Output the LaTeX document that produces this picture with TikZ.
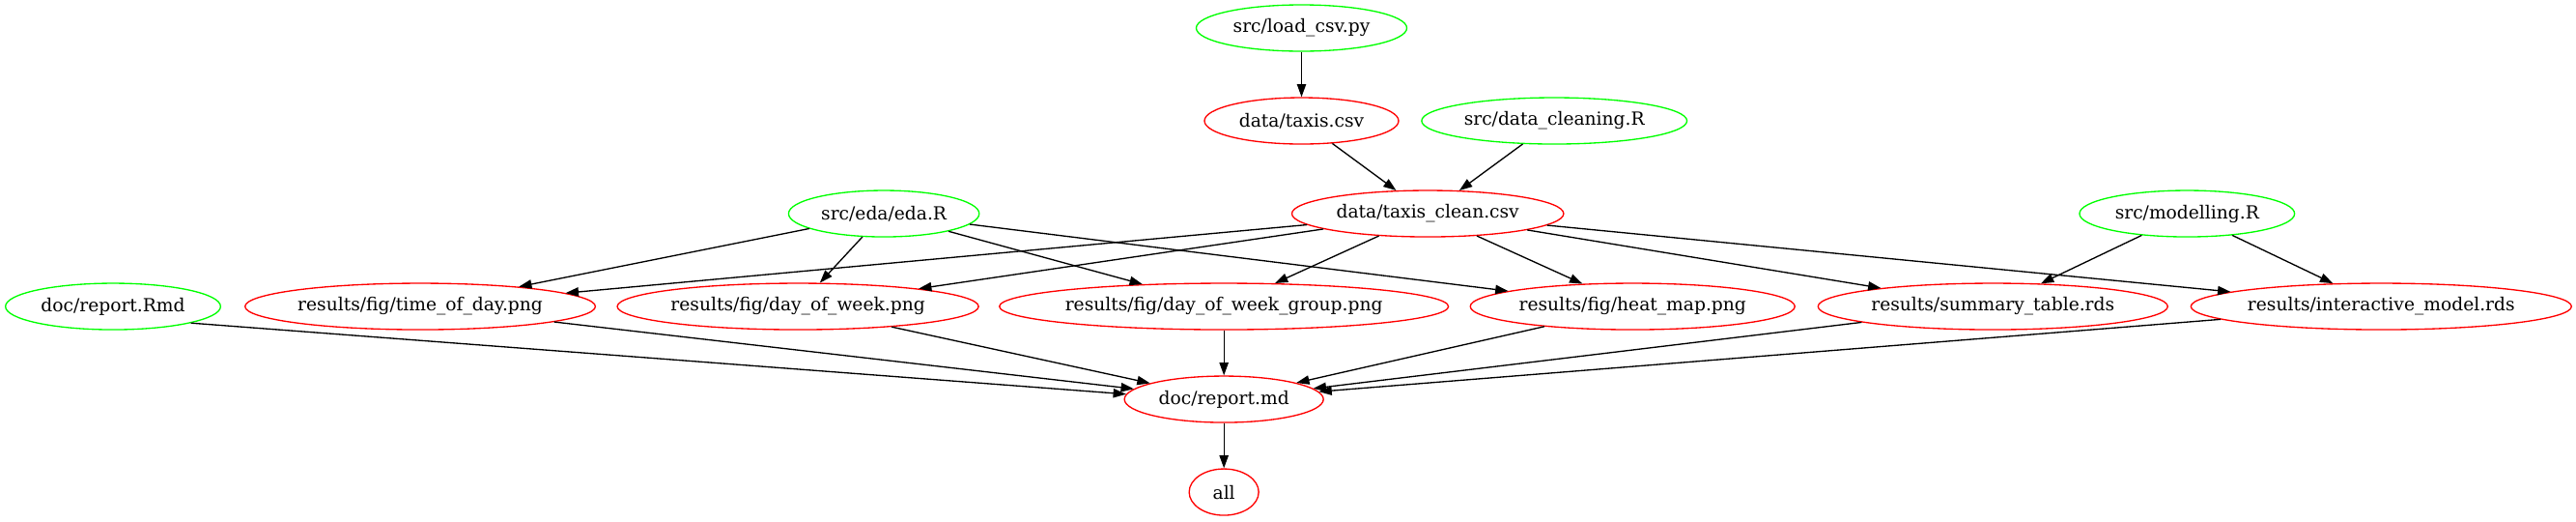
\documentclass[tikz,border=0pt]{standalone}
\usepackage{fontspec}
\setmainfont{DejaVu Serif}
\usetikzlibrary{shapes.geometric,arrows.meta}
\definecolor{gvred}{RGB}{255,0,0}
\definecolor{gvgreen}{RGB}{0,255,0}
\begin{document}
\begin{tikzpicture}[x=1pt,y=-1pt,
  filebox/.style={ellipse,draw,line width=1pt,inner sep=0pt,minimum height=36pt,
    font=\fontsize{14}{16}\selectfont},
  srcbox/.style={filebox,draw=gvgreen},
  outbox/.style={filebox,draw=gvred},
  dep/.style={line width=1pt,-{Triangle[length=10pt,width=7pt]}}]
\useasboundingbox (0,0) rectangle (2000,404.25);
% row 1
\node[srcbox,minimum width=163.5pt] (load) at (1010.5,21.75) {src/load\_csv.py};
% row 2
\node[outbox,minimum width=150.75pt] (taxis) at (1010.5,93.75) {data/taxis.csv};
\node[srcbox,minimum width=206pt] (clean) at (1206.75,93.75) {src/data\_cleaning.R};
% row 3
\node[srcbox,minimum width=148pt] (eda) at (686.25,165.75) {src/eda/eda.R};
\node[outbox,minimum width=211pt] (tclean) at (1108.5,165.75) {data/taxis\_clean.csv};
\node[srcbox,minimum width=167pt] (model) at (1698,165.75) {src/modelling.R};
% row 4
\node[srcbox,minimum width=167pt] (rmd) at (87.75,237.75) {doc/report.Rmd};
\node[outbox,minimum width=272pt] (tod) at (326.25,237.75) {results/fig/time\_of\_day.png};
\node[outbox,minimum width=280.5pt] (dow) at (619.5,237.75) {results/fig/day\_of\_week.png};
\node[outbox,minimum width=346pt] (dowg) at (950.25,237.75) {results/fig/day\_of\_week\_group.png};
\node[outbox,minimum width=252pt] (heat) at (1267.5,237.75) {results/fig/heat\_map.png};
\node[outbox,minimum width=271.5pt] (summ) at (1547.25,237.75) {results/summary\_table.rds};
\node[outbox,minimum width=295.5pt] (inter) at (1848.75,237.75) {results/interactive\_model.rds};
% row 5
\node[outbox,minimum width=154.5pt] (md) at (950.25,309.75) {doc/report.md};
% row 6
\node[outbox,minimum width=54pt] (all) at (950.25,381.75) {all};
% edges
\draw[dep] (load) -- (taxis);
\draw[dep] (taxis) -- (tclean);
\draw[dep] (clean) -- (tclean);
\foreach \t in {tod,dow,dowg,heat} \draw[dep] (eda) -- (\t);
\foreach \t in {tod,dow,dowg,heat,summ,inter} \draw[dep] (tclean) -- (\t);
\draw[dep] (model) -- (summ);
\draw[dep] (model) -- (inter);
\draw[dep] (rmd.-12) -- (md.177);
\foreach \s in {tod,dow,dowg,heat,summ,inter} \draw[dep] (\s) -- (md);
\draw[dep] (md) -- (all);
\end{tikzpicture}
\end{document}
